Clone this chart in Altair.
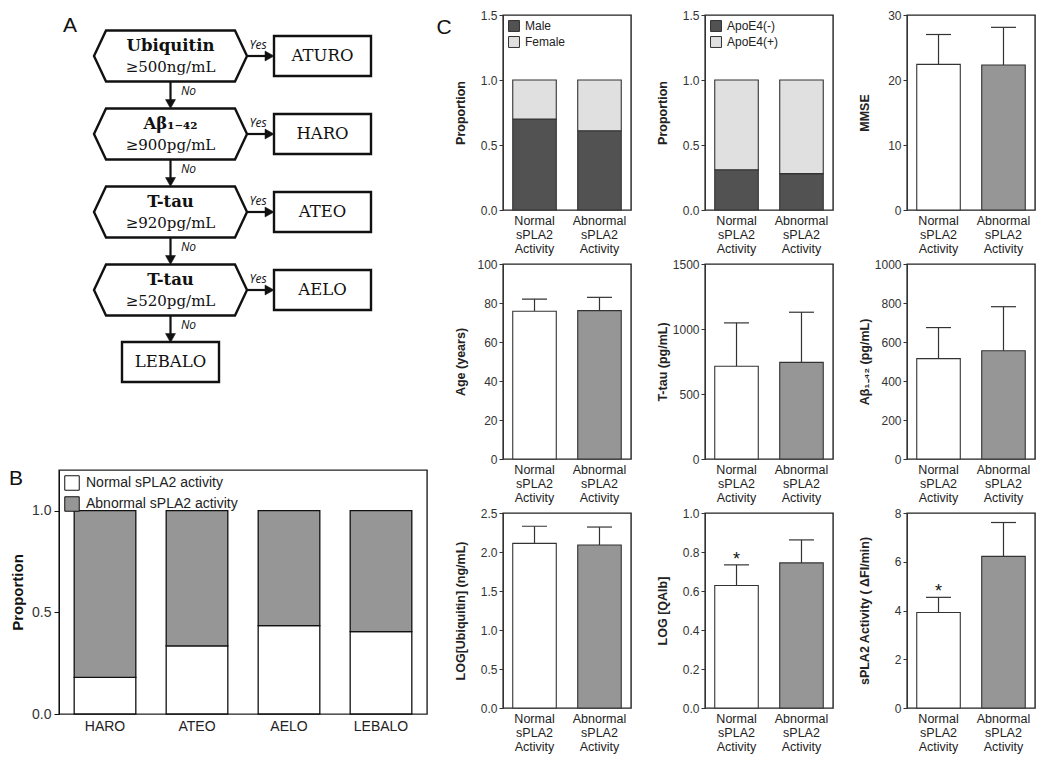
import altair as alt
import pandas as pd

SANS = "Liberation Sans"
SERIF = "DejaVu Serif"
INK = "#111111"

# ---------------- data ----------------
# Panel A: decision flowchart
fc_markers = ["Ubiquitin", "Aβ₁₋₄₂", "T-tau", "T-tau"]
fc_thresholds = ["≥500ng/mL", "≥900pg/mL", "≥920pg/mL", "≥520pg/mL"]
fc_outcomes = ["ATURO", "HARO", "ATEO", "AELO"]
fc_final = ["LEBALO"]
fc_yes = ["Yes", "Yes", "Yes", "Yes"]
fc_no = ["No", "No", "No", "No"]

# Panel B: proportion of normal / abnormal sPLA2 activity per tier
b_tiers = ["HARO", "ATEO", "AELO", "LEBALO"]
b_series = ["Normal sPLA2 activity", "Abnormal sPLA2 activity"]
b_normal = [0.18, 0.335, 0.435, 0.405]
b_abnormal = [0.82, 0.665, 0.565, 0.595]

# Panel C
c_groups = ["Normal sPLA2 Activity", "Abnormal sPLA2 Activity"]
sex_names = ["Male", "Female"]
sex_male = [0.70, 0.61]
sex_female = [0.30, 0.39]
apoe_names = ["ApoE4(-)", "ApoE4(+)"]
apoe_neg = [0.31, 0.28]
apoe_pos = [0.69, 0.72]
mmse_mean = [22.4, 22.3]
mmse_sd = [4.6, 5.8]
age_mean = [75.8, 76.1]
age_sd = [6.2, 6.8]
ttau_mean = [713, 743]
ttau_sd = [334, 386]
abeta_mean = [515, 555]
abeta_sd = [159, 226]
ubq_mean = [2.11, 2.09]
ubq_sd = [0.22, 0.23]
qalb_mean = [0.628, 0.744]
qalb_sd = [0.106, 0.118]
qalb_star = ["*", ""]
spla2_mean = [3.92, 6.22]
spla2_sd = [0.62, 1.39]
spla2_star = ["*", ""]

# ---------------- styles ----------------
HEX = "M-1,0L-0.843,-0.333L0.843,-0.333L1,0L0.843,0.333L-0.843,0.333Z"
RECT = "M-1,-0.412L1,-0.412L1,0.412L-1,0.412Z"
TRI_DOWN = "M-1,-0.9L1,-0.9L0,0.9Z"
TRI_RIGHT = "M-0.9,-1L0.9,0L-0.9,1Z"
HATCH_GRAY = "#969696"
DARK = "#525252"
LIGHT = "#e0e0e0"

# ---------------- panel A ----------------
X_FC = alt.Scale(domain=[0, 1], range=[111.5, 263.5])
Y_FC = alt.Scale(domain=[0, 4], range=[41, 353])


def fx(field="col"):
    return alt.X(f"{field}:Q", scale=X_FC, axis=None)


def fy(field="row"):
    return alt.Y(f"{field}:Q", scale=Y_FC, axis=None)


dec = pd.DataFrame({
    "row": [0, 1, 2, 3], "col": [0] * 4, "tocol": [1] * 4, "nextrow": [1, 2, 3, 4],
    "marker": fc_markers, "threshold": fc_thresholds, "yes": fc_yes, "no": fc_no,
})
outc = pd.DataFrame({"row": [0, 1, 2, 3], "col": [1] * 4, "label": fc_outcomes})
fin = pd.DataFrame({"row": [4], "col": [0], "label": fc_final})

vline = alt.Chart(dec).mark_rule(color=INK, strokeWidth=2.2, yOffset=25.5, y2Offset=-30).encode(
    x=fx(), y=fy(), y2=alt.Y2("nextrow:Q"))
vhead = alt.Chart(dec).mark_point(shape=TRI_DOWN, size=100, filled=True, fill=INK, stroke=INK,
                                  strokeWidth=0.5, opacity=1, yOffset=-30).encode(x=fx(), y=fy("nextrow"))
hline = alt.Chart(dec).mark_rule(color=INK, strokeWidth=2.2, xOffset=76.5, x2Offset=-53).encode(
    x=fx(), x2=alt.X2("tocol:Q"), y=fy())
hhead = alt.Chart(dec).mark_point(shape=TRI_RIGHT, size=100, filled=True, fill=INK, stroke=INK,
                                  strokeWidth=0.5, opacity=1, xOffset=-53).encode(x=fx("tocol"), y=fy())
hexes = alt.Chart(dec).mark_point(shape=HEX, size=153 * 153, filled=True, fill="white", stroke=INK,
                                  strokeWidth=2.4, opacity=1).encode(x=fx(), y=fy())
name_txt = alt.Chart(dec).mark_text(font=SERIF, fontSize=16.5, fontWeight="bold", color=INK, dy=-10).encode(
    x=fx(), y=fy(), text="marker:N")
thr_txt = alt.Chart(dec).mark_text(font=SERIF, fontSize=15, color=INK, dy=11).encode(
    x=fx(), y=fy(), text="threshold:N")
yes_txt = alt.Chart(dec).mark_text(font="Open Sans", fontStyle="italic", fontSize=12, color=INK,
                                   dx=87.5, dy=-11).encode(x=fx(), y=fy(), text="yes:N")
no_txt = alt.Chart(dec).mark_text(font="Open Sans", fontStyle="italic", fontSize=12, color=INK,
                                  dx=18, dy=35).encode(x=fx(), y=fy(), text="no:N")
boxes = alt.Chart(outc).mark_point(shape=RECT, size=97 * 97, filled=True, fill="white", stroke=INK,
                                   strokeWidth=2.4, opacity=1).encode(x=fx(), y=fy())
box_txt = alt.Chart(outc).mark_text(font=SERIF, fontSize=16.5, color=INK).encode(x=fx(), y=fy(), text="label:N")
fbox = alt.Chart(fin).mark_point(shape=RECT, size=97 * 97, filled=True, fill="white", stroke=INK,
                                 strokeWidth=2.4, opacity=1, yOffset=-6).encode(x=fx(), y=fy())
fbox_txt = alt.Chart(fin).mark_text(font=SERIF, fontSize=16.5, color=INK, dy=-6).encode(
    x=fx(), y=fy(), text="label:N")
lab_a = alt.Chart(pd.DataFrame({"panel": ["A"]})).mark_text(
    font=SANS, fontSize=21, align="center", baseline="top", color=INK).encode(
    x=alt.value(11), y=alt.value(0), text="panel:N")
lab_c = alt.Chart(pd.DataFrame({"panel": ["C"]})).mark_text(
    font=SANS, fontSize=21, align="center", baseline="top", color=INK).encode(
    x=alt.value(385), y=alt.value(2), text="panel:N")

panel_a = alt.layer(
    vline, vhead, hline, hhead, hexes, name_txt, thr_txt, yes_txt, no_txt,
    boxes, box_txt, fbox, fbox_txt, lab_a, lab_c,
).properties(width=368, height=441, view=alt.ViewBackground(stroke="transparent"))

# ---------------- panel B ----------------
b_df = pd.DataFrame({
    "tier": b_tiers * 2,
    "series": [b_series[0]] * 4 + [b_series[1]] * 4,
    "order": [0] * 4 + [1] * 4,
    "value": b_normal + b_abnormal,
})
b_bars = alt.Chart(b_df).mark_bar(stroke=INK, strokeWidth=1.3).encode(
    x=alt.X("tier:N", sort=b_tiers, scale=alt.Scale(paddingInner=0.33, paddingOuter=0.165),
            axis=alt.Axis(title=None, labelAngle=0, ticks=False, domain=False, labelFontSize=14,
                          labelPadding=5, labelColor="#222")),
    y=alt.Y("value:Q", stack="zero", scale=alt.Scale(domain=[0, 1.2], nice=False),
            axis=alt.Axis(title="Proportion", values=[0, 0.5, 1.0], format=".1f", tickSize=5,
                          tickCount=12, tickColor=INK, labelFontSize=14, labelColor="#333",
                          labelPadding=3, labelOverlap=False,
                          titleFontSize=15, titleFontWeight="bold", titleColor=INK, titlePadding=6,
                          minExtent=28, maxExtent=28, domainColor=INK)),
    fill=alt.Fill("series:N", scale=alt.Scale(domain=b_series, range=["white", HATCH_GRAY]),
                  legend=alt.Legend(orient="top-left", title=None, offset=5, padding=0,
                                    symbolType="square", symbolSize=210, symbolStrokeColor=INK,
                                    symbolStrokeWidth=1, symbolOpacity=1, labelFontSize=14,
                                    labelColor="#222", rowPadding=1, labelOffset=6)),
    order=alt.Order("order:Q"),
)
lab_b = alt.Chart(pd.DataFrame({"panel": ["B"]})).mark_text(
    font=SANS, fontSize=21, align="center", baseline="middle", color=INK).encode(
    x=alt.value(-43), y=alt.value(9), text="panel:N")
panel_b = alt.layer(b_bars, lab_b).properties(width=368, height=244)

# ---------------- panel C ----------------
C_W, C_H = 128, 195


def c_xaxis():
    return alt.Axis(title=None, labelAngle=0, labelExpr="split(datum.label, ' ')", ticks=False,
                    domain=False, labelFontSize=12.5, labelLineHeight=14, labelPadding=4,
                    labelColor="#222", labelBaseline="top")


def c_yaxis(title, values, fmt):
    return alt.Axis(title=title, values=values, format=fmt, tickCount=12, tickSize=4,
                    tickColor="#333", labelFontSize=12, labelColor="#333", labelPadding=2,
                    labelOverlap=False, titleFontSize=12.5, titleFontWeight="bold",
                    titleColor="#222", titlePadding=4, minExtent=32, maxExtent=32,
                    domainColor="#333")


def c_x():
    return alt.X("activity:N", sort=c_groups,
                 scale=alt.Scale(paddingInner=0.33, paddingOuter=0.15), axis=c_xaxis())


def stack_panel(title, names, low, high):
    df = pd.DataFrame({
        "activity": c_groups * 2,
        "component": [names[0]] * 2 + [names[1]] * 2,
        "order": [0, 0, 1, 1],
        "value": low + high,
    })
    return alt.Chart(df).mark_bar(stroke="#333", strokeWidth=1.1).encode(
        x=c_x(),
        y=alt.Y("value:Q", stack="zero", scale=alt.Scale(domain=[0, 1.5], nice=False),
                axis=c_yaxis(title, [0, 0.5, 1.0, 1.5], ".1f")),
        fill=alt.Fill("component:N", scale=alt.Scale(domain=names, range=[DARK, LIGHT]),
                      legend=alt.Legend(orient="top-left", title=None, offset=5, padding=0,
                                        symbolType="square", symbolSize=120, symbolStrokeColor="#333",
                                        symbolStrokeWidth=1, symbolOpacity=1, labelFontSize=12,
                                        labelColor="#222", rowPadding=0, labelOffset=5)),
        order=alt.Order("order:Q"),
    ).properties(width=C_W, height=C_H)


def bar_panel(title, means, sds, ymax, ticks, fmt, stars=None):
    df = pd.DataFrame({"activity": c_groups, "mean": means, "sd": sds,
                       "star": stars if stars else ["", ""]})
    base = alt.Chart(df).encode(x=c_x())
    yscale = alt.Scale(domain=[0, ymax], nice=False)
    bars = base.mark_bar(stroke="#333", strokeWidth=1.1).encode(
        y=alt.Y("mean:Q", scale=yscale, axis=c_yaxis(title, ticks, fmt)),
        fill=alt.Fill("activity:N", scale=alt.Scale(domain=c_groups, range=["white", HATCH_GRAY]),
                      legend=None),
    )
    witht = base.transform_calculate(top="datum.mean + datum.sd")
    err = witht.mark_rule(color="#333", strokeWidth=1.2).encode(
        y=alt.Y("mean:Q", scale=yscale), y2="top:Q")
    cap = witht.mark_tick(color="#333", thickness=1.2, size=25, opacity=1).encode(
        y=alt.Y("top:Q", scale=yscale))
    layers = [err, bars, cap]
    if stars:
        layers.append(witht.mark_text(fontSize=18, font=SANS, color=INK, dy=-5).encode(
            y=alt.Y("top:Q", scale=yscale), text="star:N"))
    return alt.layer(*layers).properties(width=C_W, height=C_H)


p_sex = stack_panel("Proportion", sex_names, sex_male, sex_female)
p_apoe = stack_panel("Proportion", apoe_names, apoe_neg, apoe_pos)
p_mmse = bar_panel("MMSE", mmse_mean, mmse_sd, 30, [0, 10, 20, 30], "d")
p_age = bar_panel("Age (years)", age_mean, age_sd, 100, [0, 20, 40, 60, 80, 100], "d")
p_ttau = bar_panel("T-tau (pg/mL)", ttau_mean, ttau_sd, 1500, [0, 500, 1000, 1500], "d")
p_abeta = bar_panel("Aβ₁₋₄₂ (pg/mL)", abeta_mean, abeta_sd, 1000, [0, 200, 400, 600, 800, 1000], "d")
p_ubq = bar_panel("LOG[Ubiquitin] (ng/mL)", ubq_mean, ubq_sd, 2.5, [0, 0.5, 1.0, 1.5, 2.0, 2.5], ".1f")
p_qalb = bar_panel("LOG [QAlb]", qalb_mean, qalb_sd, 1.0, [0, 0.2, 0.4, 0.6, 0.8, 1.0], ".1f", qalb_star)
p_spla2 = bar_panel("sPLA2 Activity ( ΔFI/min)", spla2_mean, spla2_sd, 8, [0, 2, 4, 6, 8], "d", spla2_star)

RES = dict(fill="independent")
row1 = alt.hconcat(p_sex, p_apoe, p_mmse, spacing=23).resolve_scale(**RES)
row2 = alt.hconcat(p_age, p_ttau, p_abeta, spacing=23).resolve_scale(**RES)
row3 = alt.hconcat(p_ubq, p_qalb, p_spla2, spacing=23).resolve_scale(**RES)
right = alt.vconcat(row1, row2, row3, spacing=1).resolve_scale(**RES)
left = alt.vconcat(panel_a, panel_b, spacing=10).resolve_scale(**RES)

chart = alt.hconcat(left, right, spacing=0).resolve_scale(**RES).properties(
    padding=0, background="white"
).configure_view(stroke="#222", strokeWidth=1.4).configure_axis(
    labelFont=SANS, titleFont=SANS, grid=False
).configure_legend(labelFont=SANS)

chart.save("out.html", embed_options={"renderer": "svg", "actions": False})
